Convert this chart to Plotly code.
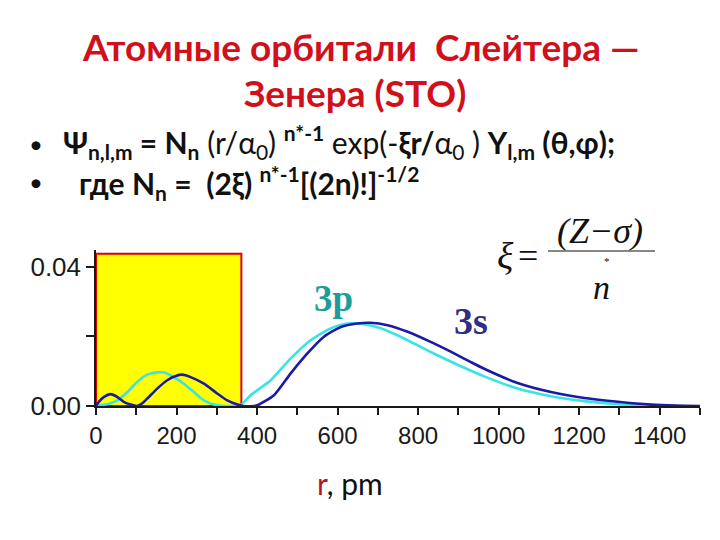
import plotly.graph_objects as go

# ---- data ----
r_3s = [0, 7, 20, 36, 50, 69, 86, 102, 115, 127, 152, 177, 198, 214, 235, 268, 301, 326, 351, 365, 392,
        401, 442, 483, 525, 566, 608, 649, 682, 724, 774, 831, 881, 931, 964, 1047, 1130, 1213, 1296, 1378, 1440, 1500]
psi_3s = [0.0, 0.0012, 0.0026, 0.0034, 0.0028, 0.0012, 0.0004, 0.0, 0.0008, 0.0021, 0.0050, 0.0074, 0.0086, 0.0090,
          0.0083, 0.0064, 0.0036, 0.0016, 0.0004, 0.0, 0.0,
          0.0002, 0.0031, 0.0093, 0.0151, 0.0199, 0.0227, 0.0237, 0.0239, 0.0232, 0.0213, 0.0184, 0.0156, 0.0126,
          0.0107, 0.0066, 0.0040, 0.0023, 0.0012, 0.0004, 0.0001, 0.0]

r_3p = [0, 11, 30, 53, 78, 102, 127, 148, 169, 193, 218, 243, 268, 293, 318, 340, 359,
        384, 434, 483, 533, 583, 624, 666, 707, 765, 831, 906, 964, 1047, 1130, 1213, 1296, 1378, 1440]
psi_3p = [0.0, 0.0002, 0.0006, 0.0016, 0.0040, 0.0069, 0.0090, 0.0096, 0.0096, 0.0083, 0.0064, 0.0040, 0.0016,
          0.0004, 0.0, 0.0, 0.0002,
          0.0031, 0.0074, 0.0136, 0.0189, 0.0223, 0.0237, 0.0235, 0.0223, 0.0194, 0.0155, 0.0114, 0.0085, 0.0050,
          0.0028, 0.0014, 0.0005, 0.0001, 0.0]

x_tick_vals = [0, 200, 400, 600, 800, 1000, 1200, 1400]
x_tick_text = [str(v) for v in x_tick_vals]
x_minor_vals = [100, 300, 500, 700, 900, 1100, 1300, 1500]
y_tick_vals = [0.0, 0.04]
y_tick_text = ["0.00", "0.04"]
y_minor_vals = [0.02]

highlight_r = [0, 361]
highlight_top = 0.0437

# ---- layout helpers (page body has an 8px margin) ----
OFF = 8
W, H = 712, 532
ML, MR, MT, MB = 88, 20, 242, 134


def px(x):
    return (x - OFF - ML) / (W - ML - MR)


def py(y):
    return (H - MB - (y - OFF)) / (H - MT - MB)


fig = go.Figure()

fig.add_shape(type="rect", xref="x", yref="y",
              x0=highlight_r[0], x1=highlight_r[1], y0=0, y1=highlight_top,
              fillcolor="#ffff00", line=dict(color="#e00000", width=2), layer="below")

fig.add_trace(go.Scatter(x=r_3p, y=psi_3p, mode="lines",
                         line=dict(color="#38e4e4", width=2.6, shape="spline", smoothing=0.6),
                         name="3p", showlegend=False))
fig.add_trace(go.Scatter(x=r_3s, y=psi_3s, mode="lines",
                         line=dict(color="#1a1aa6", width=2.6, shape="spline", smoothing=0.6),
                         name="3s", showlegend=False))

tick_style = dict(ticks="outside", tickcolor="#1a1a1a", tickwidth=1.5)
fig.update_xaxes(range=[0, 1500], tickvals=x_tick_vals, ticktext=x_tick_text,
                 showline=True, linecolor="#1a1a1a", linewidth=1.5, ticklen=7, **tick_style,
                 minor=dict(tickvals=x_minor_vals, ticklen=7, **tick_style),
                 showgrid=False, zeroline=False,
                 tickfont=dict(family="Liberation Sans, Arial, sans-serif", size=24, color="#1a1a1a"))
fig.update_yaxes(range=[0, 0.0448], tickvals=y_tick_vals, ticktext=y_tick_text,
                 showline=True, linecolor="#1a1a1a", linewidth=1.5, ticklen=8, **tick_style,
                 minor=dict(tickvals=y_minor_vals, ticklen=8, **tick_style),
                 showgrid=False, zeroline=False,
                 tickfont=dict(family="Liberation Sans, Arial, sans-serif", size=26, color="#1a1a1a"))

title_font = dict(family="Lato, Open Sans, sans-serif", size=37, color="#d0101a")
text_font = dict(family="Lato, Open Sans, sans-serif", size=30, color="#111111")
serif = "Liberation Serif, Times New Roman, serif"

annotations = [
    dict(x=px(360), y=py(46), text="<b>Атомные орбитали  Слейтера —</b>", font=title_font),
    dict(x=px(355), y=py(92), text="<b>Зенера (STO)</b>", font=title_font),
    dict(x=px(36), y=py(143), text="•", font=dict(family="Lato, sans-serif", size=24, color="#111")),
    dict(x=px(36), y=py(181), text="•", font=dict(family="Lato, sans-serif", size=24, color="#111")),
    dict(x=px(61), y=py(142), xanchor="left",
         text="<b>Ψ<sub>n,l,m</sub> = N<sub>n</sub></b> (r/α<sub>0</sub>) <sup><b>n*-1</b></sup> "
              "exp(-<b>ξr/</b>α<sub>0</sub> ) <b>Υ<sub>l,m</sub> (θ,φ);</b>", font=text_font),
    dict(x=px(77), y=py(183), xanchor="left",
         text="<b>где N<sub>n</sub> =  (2ξ) <sup>n*-1</sup>[(2n)!]<sup>-1/2</sup></b>", font=text_font),
    # xi formula
    dict(x=px(505), y=py(256), text="<i>ξ</i>", font=dict(family=serif, size=38, color="#111")),
    dict(x=px(528), y=py(256), text="=", font=dict(family=serif, size=36, color="#111")),
    dict(x=px(600), y=py(231), text="<i>(Z−σ)</i>", font=dict(family=serif, size=36, color="#111")),
    dict(x=px(601), y=py(287), text="<i>n</i>", font=dict(family=serif, size=34, color="#111")),
    dict(x=px(607), y=py(261), text="*", font=dict(family=serif, size=11, color="#111")),
    # curve labels
    dict(x=px(333), y=py(298), text="<b>3p</b>", font=dict(family=serif, size=37, color="#1e9c9c")),
    dict(x=px(471), y=py(321), text="<b>3s</b>", font=dict(family=serif, size=38, color="#2e2e84")),
    # x axis title
    dict(x=px(350), y=py(483),
         text="<span style='color:#b01830'>r</span>, pm",
         font=dict(family="Lato, Open Sans, sans-serif", size=30, color="#111")),
]
for a in annotations:
    a.setdefault("xanchor", "center")
    a.update(xref="paper", yref="paper", yanchor="middle", showarrow=False)
fig.update_layout(annotations=annotations)

fig.add_shape(type="line", xref="paper", yref="paper", x0=px(548), x1=px(655), y0=py(251), y1=py(251),
              line=dict(color="#111", width=1.2))

fig.update_layout(width=W, height=H, margin=dict(l=ML, r=MR, t=MT, b=MB),
                  paper_bgcolor="white", plot_bgcolor="white")

fig.write_html("out.html")
